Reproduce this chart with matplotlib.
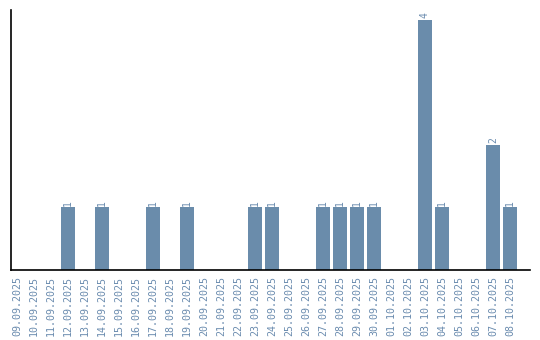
import matplotlib
matplotlib.use("Agg")
import matplotlib.pyplot as plt
import numpy as np

# daty i liczby
dates = ["09.09.2025", "10.09.2025", "11.09.2025", "12.09.2025", "13.09.2025",
         "14.09.2025", "15.09.2025", "16.09.2025", "17.09.2025", "18.09.2025",
         "19.09.2025", "20.09.2025", "21.09.2025", "22.09.2025", "23.09.2025",
         "24.09.2025", "25.09.2025", "26.09.2025", "27.09.2025", "28.09.2025",
         "29.09.2025", "30.09.2025", "01.10.2025", "02.10.2025", "03.10.2025",
         "04.10.2025", "05.10.2025", "06.10.2025", "07.10.2025", "08.10.2025"]
counts = [0, 0, 0, 1, 0, 1, 0, 0, 1, 0,
          1, 0, 0, 0, 1, 1, 0, 0, 1, 1,
          1, 1, 0, 0, 4, 1, 0, 0, 2, 1]

bar_color = "#6a8cab"
text_color = "#6b8caf"

fig = plt.figure(figsize=(5.4, 3.4), dpi=100)
ax = fig.add_axes([0.0204, 0.2059, 0.9611, 0.7647])

x = np.arange(len(dates))
ax.bar(x, counts, width=0.82, color=bar_color)

for xi, c in zip(x, counts):
    if c > 0:
        ax.text(xi, c + 0.03, str(c), rotation=90, ha="center", va="bottom",
                color=text_color, fontsize=7, family="DejaVu Sans Mono")

ax.set_xlim(-0.35, 30.18)
ax.set_ylim(0, 4.16)
ax.set_xticks(x)
ax.set_xticklabels(dates, rotation=90, color=text_color, fontsize=7.2,
                   family="DejaVu Sans Mono")
ax.tick_params(axis="x", length=0, pad=4)
ax.set_yticks([])
ax.spines["top"].set_visible(False)
ax.spines["right"].set_visible(False)
ax.spines["left"].set_linewidth(1.2)
ax.spines["bottom"].set_linewidth(1.2)

fig.savefig("out.png", dpi=100)
